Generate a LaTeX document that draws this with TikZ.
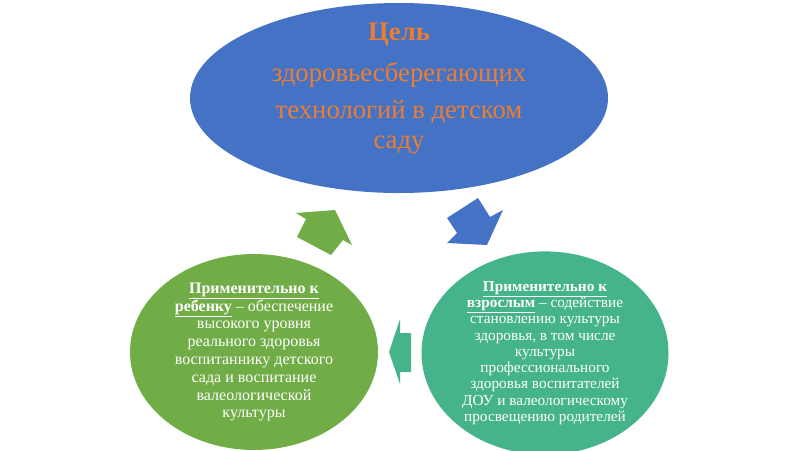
\documentclass[tikz,border=0pt]{standalone}
\usepackage{fontspec}
\setmainfont{Liberation Serif}
\usetikzlibrary{shapes.geometric,positioning}

\definecolor{goalblue}{HTML}{4472C4}
\definecolor{goalorange}{HTML}{ED7D31}
\definecolor{childgreen}{HTML}{70AD47}
\definecolor{adultteal}{HTML}{45B48A}

\begin{document}
\begin{tikzpicture}[
    x=1pt, y=-1pt,
    oval/.style={ellipse, inner sep=0pt, align=center},
    goal/.style={oval, fill=goalblue, minimum width=418pt, minimum height=190pt},
    child/.style={oval, fill=childgreen, minimum width=248pt, minimum height=182pt,
        text=white, font=\fontsize{16}{17.8}\selectfont},
    adult/.style={oval, fill=adultteal, minimum width=247pt, minimum height=192pt,
        text=white, font=\fontsize{15.3}{16.3}\selectfont},
    goaltext/.style={align=center, text=goalorange, font=\fontsize{26.7}{37}\selectfont}
]
    \useasboundingbox (0,0) rectangle (800,450);

    % ovals
    \node[goal] (goal) at (399,98) {};
    \node[goaltext] (goallabel) at ([yshift=9pt]goal.center)
        {\textbf{Цель}\\[4pt]здоровьесберегающих\\технологий в детском\\[-7pt]саду};
    \node[child] (child) at (254,352)
        {\underline{\textbf{Применительно к}}\\
         \underline{\textbf{ребенку}} – обеспечение\\
         высокого уровня\\
         реального здоровья\\
         воспитаннику детского\\
         сада и воспитание\\
         валеологической\\
         культуры};
    \node[adult] (adult) at (545,353)
        {\underline{\textbf{Применительно к}}\\
         \underline{\textbf{взрослым}} – содействие\\
         становлению культуры\\
         здоровья, в том числе\\
         культуры\\
         профессионального\\
         здоровья воспитателей\\
         ДОУ и валеологическому\\
         просвещению родителей};

    % block arrows of the cycle
    \fill[childgreen] (297,237) -- (306,219) -- (296,213) -- (335,210)
        -- (352,245) -- (343,240) -- (331,255) -- cycle;
    \fill[goalblue] (447,218) -- (478,198) -- (490,217) -- (503,210)
        -- (487,245) -- (447,243) -- (457,233) -- cycle;
    \fill[adultteal] (411,333) -- (400,333) -- (400,319) -- (389,352)
        -- (400,384) -- (400,372) -- (411,372) -- cycle;
\end{tikzpicture}
\end{document}
